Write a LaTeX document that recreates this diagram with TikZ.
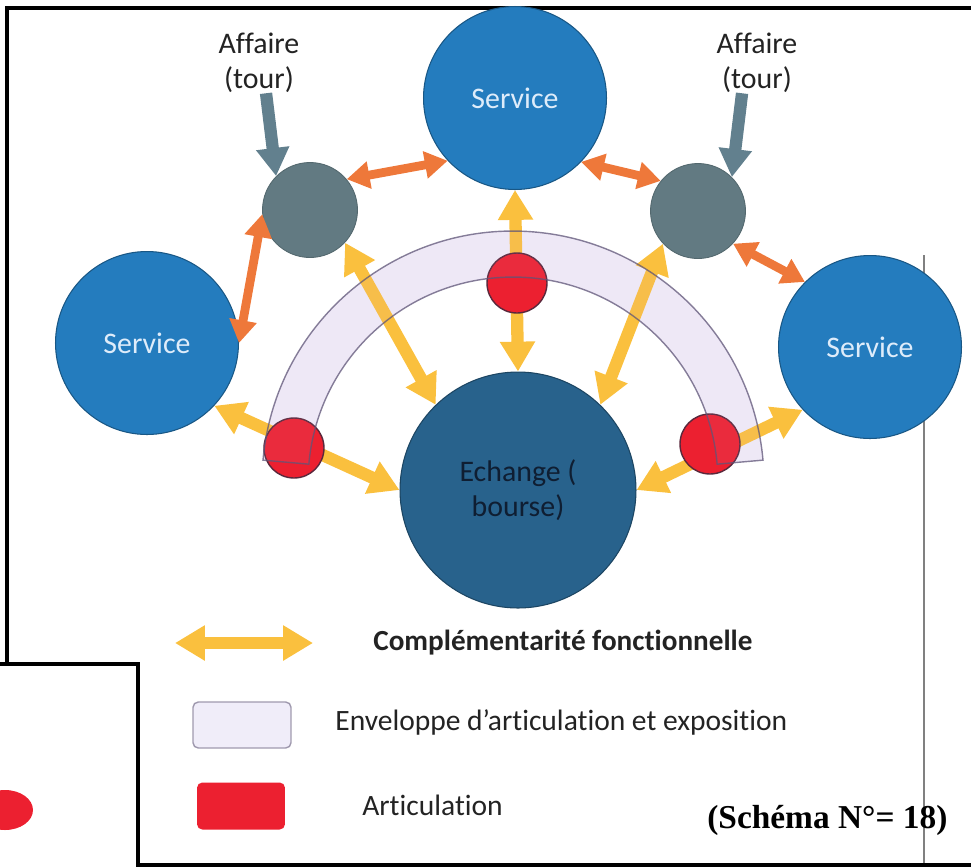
\documentclass[tikz,border=0pt]{standalone}
\usepackage{fontspec}
\setmainfont{Carlito}[Ligatures=NoCommon]
\newfontfamily\timesbf{Liberation Serif}
\usetikzlibrary{arrows.meta, calc}

\definecolor{servblue}{RGB}{36,124,190}
\definecolor{exchblue}{RGB}{40,98,140}
\definecolor{tourgray}{RGB}{98,122,130}
\definecolor{artred}{RGB}{236,32,48}
\definecolor{compyellow}{RGB}{250,192,62}
\definecolor{linkorange}{RGB}{238,120,58}
\definecolor{arrowgray}{RGB}{98,128,142}
\definecolor{envlav}{RGB}{240,237,249}
\definecolor{envline}{RGB}{95,85,120}
\definecolor{txtdark}{RGB}{35,35,35}

\begin{document}
\begin{tikzpicture}[
    x=0.02cm, y=-0.02cm,
    font=\fontsize{17}{20}\selectfont,
    % Poles
    service/.style={circle, draw=servblue!70!black, line width=0.6pt, fill=servblue, text={rgb,255:red,222;green,236;blue,250}, minimum size=3.66cm, inner sep=0pt},
    exchange/.style={circle, draw=exchblue!70!black, line width=0.6pt, fill=exchblue, text={rgb,255:red,15;green,30;blue,50}, minimum size=4.72cm, align=center, inner sep=0pt},
    tour/.style={circle, draw=tourgray!85!black, line width=0.5pt, fill=tourgray, minimum size=1.9cm},
    joint/.style={circle, draw={rgb,255:red,90;green,40;blue,60}, line width=0.8pt, fill=artred, minimum size=1.2cm},
    captxt/.style={align=center, text=txtdark, inner sep=0pt},
    legtxt/.style={anchor=west, text=txtdark, inner sep=0pt},
    % Links
    compl/.style={line width=7pt, draw=compyellow, {Triangle[width=19pt,length=17pt]}-{Triangle[width=19pt,length=17pt]}},
    link/.style={line width=5pt, draw=linkorange, {Triangle[width=15pt,length=13pt]}-{Triangle[width=15pt,length=13pt]}},
    affarrow/.style={line width=7pt, draw=arrowgray, -{Triangle[width=18pt,length=16pt]}},
    % Envelope
    bandfill/.style={fill=envlav},
    bandtop/.style={fill=violet!30, fill opacity=0.08, draw=envline, draw opacity=0.75, line width=0.8pt},
    envbox/.style={rectangle, rounded corners=3pt, draw=envline!60, line width=0.8pt, fill=envlav, minimum width=1.96cm, minimum height=0.92cm},
    jointbox/.style={rectangle, rounded corners=3pt, fill=artred, minimum width=1.76cm, minimum height=0.94cm}
]
\useasboundingbox (0,0) rectangle (971,867);
\clip (0,0) rectangle (971,867);

% -----------------------------------------------------------
% Frame
% -----------------------------------------------------------
\draw[gray, line width=0.6pt] (924,255) -- (924,867);
\draw[line width=2pt] (971,8) -- (7,8) -- (7,664);
\draw[line width=2pt] (0,664) -- (138,664) -- (138,865) -- (971,865);
\fill[artred] (5,810) ellipse [x radius=0.56cm, y radius=0.4cm];

% -----------------------------------------------------------
% Poles
% -----------------------------------------------------------
\node[service] (srvT) at (515,98) {Service};
\node[service] (srvL) at (147,343) {Service};
\node[service] (srvR) at (870,347) {Service};
\node[exchange] (exch) at (518,490) {Echange (\\bourse)};
\node[tour] (tourL) at (310,210) {};
\node[tour] (tourR) at (698,211) {};

\node[captxt] (affL) at (259,63) {Affaire\\(tour)};
\node[captxt] (affR) at (757,63) {Affaire\\(tour)};

% envelope (body under the links)
\coordinate (bandc) at (513,482);
\fill[bandfill] ($(bandc)+(175:5.02cm)$) arc[start angle=175, end angle=5, radius=5.02cm]
    -- ($(bandc)+(5:4.1cm)$) arc[start angle=5, end angle=175, radius=4.1cm] -- cycle;

% -----------------------------------------------------------
% Connectors
% -----------------------------------------------------------
\draw[affarrow] ([xshift=4pt]affL.south) -- (tourL.135);
\draw[affarrow] ([xshift=-8.5pt]affR.south) -- (tourR.45);

\draw[link] (tourL.40) -- (srvT.223);
\draw[link] (tourL.185) -- (srvL.0);
\draw[link] (srvT.-44) -- (tourR.141);
\draw[link] (tourR.-43) -- (srvR.135);

\draw[compl] (srvT.south) -- (exch.north);
\draw[compl] (srvL.-43) -- (exch.180);
\draw[compl] (exch.0) -- (srvR.223);
\draw[compl] (tourL.-43) -- (exch.134);
\draw[compl] (tourR.223) -- (exch.46);

% -----------------------------------------------------------
% Articulations, envelope outline on top
% -----------------------------------------------------------
\node[joint] (jT) at (517,283) {};
\node[joint] (jL) at (294,448) {};
\node[joint] (jR) at (710,444) {};

\path[bandtop] ($(bandc)+(175:5.02cm)$) arc[start angle=175, end angle=5, radius=5.02cm]
    -- ($(bandc)+(5:4.1cm)$) arc[start angle=5, end angle=175, radius=4.1cm] -- cycle;

% -----------------------------------------------------------
% Legend
% -----------------------------------------------------------
\coordinate (lgA) at (175,643);
\coordinate (lgB) at (313,643);
\draw[compl] (lgA) -- (lgB);
\node[envbox] (lgEnv) at (242,725) {};
\node[jointbox] (lgJoint) at (241,806) {};

\node[legtxt, font=\bfseries\fontsize{16.6}{20}\selectfont] (lgTxtA) at (373,643) {Complémentarité fonctionnelle};
\node[legtxt, font=\fontsize{16.8}{20}\selectfont] (lgTxtB) at (335,722) {Enveloppe d’articulation et exposition};
\node[legtxt, font=\fontsize{16.8}{20}\selectfont] (lgTxtC) at (362,805) {Articulation};
\node[legtxt, text=black, font=\timesbf\bfseries\fontsize{19}{22}\selectfont] (schema) at (707,820) {(Schéma N°= 18)};

\end{tikzpicture}
\end{document}
